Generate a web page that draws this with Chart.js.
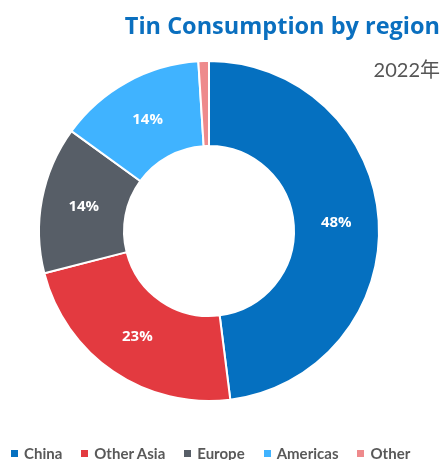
<!DOCTYPE html>
<html>
<head>
<meta charset="utf-8">
<script src="https://cdn.jsdelivr.net/npm/chart.js@4"></script>
<style>
  html, body { margin: 0; padding: 0; background: #fff; }
  #wrap { position: relative; width: 443px; height: 460px; overflow: hidden; }
  #title { position: absolute; right: 3px; top: 9px; font: bold 23.5px 'Open Sans', sans-serif; color: #0A6FBF; white-space: nowrap; }
  #subtitle { position: absolute; right: 3px; top: 54px; font: 20px Lato, 'Noto Sans CJK SC', sans-serif; color: #555; white-space: nowrap; }
  #legend { position: absolute; left: 11px; top: 444px; display: flex; align-items: center; font: bold 15px Lato, sans-serif; color: #595959; white-space: nowrap; }
  #legend .item { display: flex; align-items: center; margin-right: 19px; }
  #legend .box { width: 7px; height: 7px; margin-right: 6px; }
</style>
</head>
<body>
<div id="wrap">
  <canvas id="regionChart" width="443" height="460"></canvas>
  <div id="title">Tin Consumption by region</div>
  <div id="subtitle">2022年</div>
  <div id="legend"></div>
</div>
<script>
const regions = ['China', 'Other Asia', 'Europe', 'Americas', 'Other'];
const shares = [48, 23, 14, 14, 1];
const colors = ['#0570C0', '#E33A40', '#575E67', '#40B3FF', '#EE8A8C'];
// slices too thin to carry a label
const hideLabelBelow = 5;

// writes the percentage in the middle of each slice
const sliceLabels = {
  id: 'sliceLabels',
  afterDatasetsDraw(chart) {
    const ctx = chart.ctx;
    const meta = chart.getDatasetMeta(0);
    ctx.save();
    ctx.font = 'bold 15px "Open Sans", sans-serif';
    ctx.fillStyle = '#fff';
    ctx.textAlign = 'center';
    ctx.textBaseline = 'middle';
    meta.data.forEach((arc, i) => {
      if (shares[i] < hideLabelBelow) return;
      const pos = arc.tooltipPosition(true);
      ctx.fillText(shares[i] + '%', pos.x, pos.y);
    });
    ctx.restore();
  }
};

const chart = new Chart(document.getElementById('regionChart'), {
  type: 'doughnut',
  data: {
    labels: regions,
    datasets: [{
      data: shares,
      backgroundColor: colors,
      borderColor: '#fff',
      borderWidth: 2
    }]
  },
  options: {
    responsive: false,
    animation: false,
    cutout: '50%',
    layout: { padding: { left: 38, right: 63, top: 60, bottom: 58 } },
    plugins: {
      tooltip: { enabled: false },
      legend: { display: false }
    }
  },
  plugins: [sliceLabels]
});

// legend row built from the chart's own labels
document.getElementById('legend').innerHTML = chart.data.labels.map((name, i) => `
  <span class="item"><span class="box" style="background:${colors[i]}"></span>${name}</span>`).join('');
</script>
</body>
</html>
